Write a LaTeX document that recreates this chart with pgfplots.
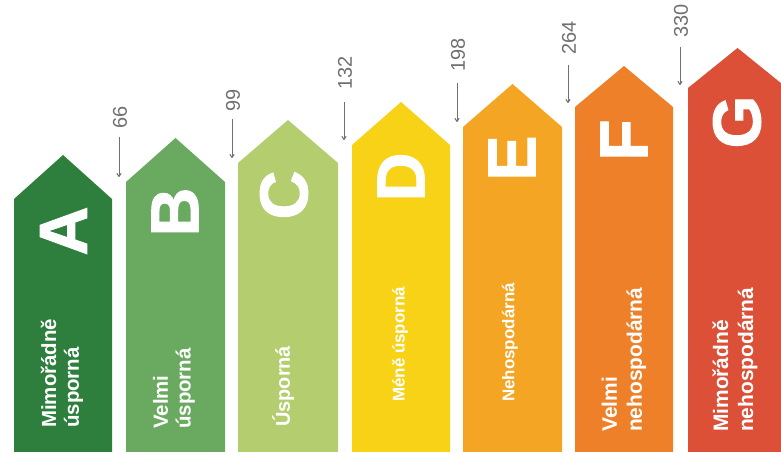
\documentclass[border=0pt]{standalone}
\usepackage{fontspec}
\setmainfont{Liberation Sans}
\newfontfamily\heavy[FakeBold=1.5]{Liberation Sans Bold}
\usepackage{pgfplots}
\pgfplotsset{compat=1.18}
\usetikzlibrary{arrows.meta}

\definecolor{clsA}{HTML}{2E7F3D}
\definecolor{clsB}{HTML}{6AAA60}
\definecolor{clsC}{HTML}{B4CD6E}
\definecolor{clsD}{HTML}{F8D216}
\definecolor{clsE}{HTML}{F5A524}
\definecolor{clsF}{HTML}{EE8029}
\definecolor{clsG}{HTML}{DC5038}
\definecolor{numgray}{HTML}{707070}

\begin{document}
\begin{tikzpicture}
\begin{axis}[
    width=781bp, height=462bp,
    scale only axis,
    xmin=0, xmax=781, ymin=0, ymax=462,
    hide axis,
    clip=true,
]
% page background
\addplot[fill=white, draw=none] coordinates {(0,0) (781,0) (781,462) (0,462)} -- cycle;

% class arrows: (left,0) (left,shoulder) (centre,peak) (right,shoulder) (right,0)
\addplot[fill=clsA, draw=none] coordinates {(14,10) (14,263) (63,307) (112,263) (112,10)} -- cycle;
\addplot[fill=clsB, draw=none] coordinates {(126,10) (126,280) (175.5,324) (225,280) (225,10)} -- cycle;
\addplot[fill=clsC, draw=none] coordinates {(238,10) (238,299) (288,342) (338,299) (338,10)} -- cycle;
\addplot[fill=clsD, draw=none] coordinates {(352,10) (352,317) (401,360) (450,317) (450,10)} -- cycle;
\addplot[fill=clsE, draw=none] coordinates {(463,10) (463,335) (512.5,378) (562,335) (562,10)} -- cycle;
\addplot[fill=clsF, draw=none] coordinates {(575,10) (575,355) (624,396) (673,355) (673,10)} -- cycle;
\addplot[fill=clsG, draw=none] coordinates {(688,10) (688,374) (737.5,414) (787,374) (787,10)} -- cycle;

% limit arrows
\addplot[numgray, line width=1bp, -{To[length=4bp,width=5bp]}] coordinates {(119,325) (119,285)};
\addplot[numgray, line width=1bp, -{To[length=4bp,width=5bp]}] coordinates {(232,343) (232,304)};
\addplot[numgray, line width=1bp, -{To[length=4bp,width=5bp]}] coordinates {(344,360) (344,322)};
\addplot[numgray, line width=1bp, -{To[length=4bp,width=5bp]}] coordinates {(457,379) (457,340)};
\addplot[numgray, line width=1bp, -{To[length=4bp,width=5bp]}] coordinates {(568,397) (568,359)};
\addplot[numgray, line width=1bp, -{To[length=4bp,width=5bp]}] coordinates {(680,415) (680,377)};

\begin{scope}[every node/.style={rotate=90, anchor=west, inner sep=0pt, text=numgray, font=\fontsize{20}{20}\selectfont}]
\node at (axis cs:120,333) {66};
\node at (axis cs:233,350) {99};
\node at (axis cs:345,372) {132};
\node at (axis cs:458,390) {198};
\node at (axis cs:569,407) {264};
\node at (axis cs:681,424) {330};
\end{scope}

% class letters
\begin{scope}[every node/.style={rotate=90, anchor=center, inner sep=0pt, text=white, font=\heavy\fontsize{68}{68}\selectfont}]
\node at (axis cs:63.5,231) {A};
\node at (axis cs:175,250) {B};
\node at (axis cs:284,267) {C};
\node at (axis cs:401,285) {D};
\node at (axis cs:512,304) {E};
\node at (axis cs:624,322) {F};
\node at (axis cs:737,340) {G};
\end{scope}

% class names
\begin{scope}[every node/.style={rotate=90, anchor=west, inner sep=0pt, text=white, align=left}]
\node[font=\bfseries\fontsize{20.5}{23}\selectfont] at (axis cs:62,34) {Mimořádně\\úsporná};
\node[font=\bfseries\fontsize{20.5}{23}\selectfont] at (axis cs:174,33) {Velmi\\úsporná};
\node[font=\bfseries\fontsize{20}{23}\selectfont] at (axis cs:283,35) {Úsporná};
\node[font=\bfseries\fontsize{17}{20}\selectfont] at (axis cs:400,60) {Méně úsporná};
\node[font=\bfseries\fontsize{17}{20}\selectfont] at (axis cs:510,60) {Nehospodárná};
\node[font=\bfseries\fontsize{21}{25}\selectfont] at (axis cs:624,30) {Velmi\\nehospodárná};
\node[font=\bfseries\fontsize{21}{25}\selectfont] at (axis cs:735,30) {Mimořádně\\nehospodárná};
\end{scope}
\end{axis}
\end{tikzpicture}
\end{document}
